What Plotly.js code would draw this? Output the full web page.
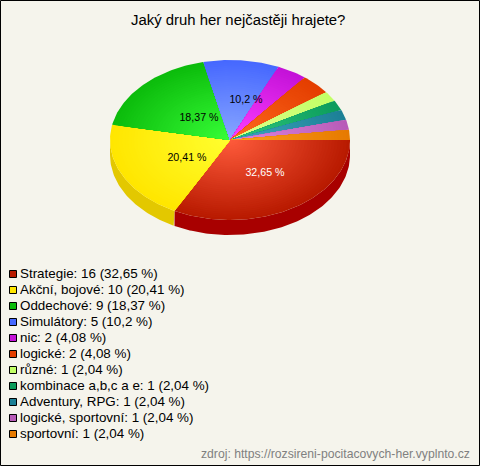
<!DOCTYPE html>
<html><head><meta charset="utf-8">
<script src="https://cdn.plot.ly/plotly-3.0.1.min.js"></script>
<style>html,body{margin:0;padding:0;background:#f5f4ec;overflow:hidden}#c{width:480px;height:466px}</style>
</head><body><div id="c"></div>
<script>
var categories = ["Strategie","Akční, bojové","Oddechové","Simulátory","nic","logické","různé","kombinace a,b,c a e","Adventury, RPG","logické, sportovní","sportovní"];
var counts = [16,10,9,5,2,2,1,1,1,1,1];
var percentLabels = ["32,65","20,41","18,37","10,2","4,08","4,08","2,04","2,04","2,04","2,04","2,04"];
var edgeColors = ["#b81a00","#ffe600","#0cbc0c","#4668ff","#c412d8","#e43e00","#c2ff66","#0c9c5c","#1c8096","#b85cb8","#e67a00"];
var innerColors = ["#ff5c3c","#ffff30","#38ff38","#8aa8ff","#ff40ff","#ff6a20","#e0ff90","#30c880","#40a8c0","#e088e0","#ffa020"];
var legendColors = ["#b81a00","#ffe600","#0cbc0c","#4668ff","#c412d8","#e43e00","#c2ff66","#0c9c5c","#1c8096","#b85cb8","#e67a00"];
var wallColors = ["#a80000","#e3c800"];

var labelX = [265,187,199,246], labelY = [173,158,118,100];
var labelColors = ["#ffffff","#000000","#000000","#000000"];

var cx=230, cy=140, rx=120, ry=80, depth=15, rings=40;
var total = counts.reduce(function(a,b){return a+b;},0);
function hex(c){return [1,3,5].map(function(i){return parseInt(c.substr(i,2),16);});}
function mix(a,b,t){var p=hex(a),q=hex(b);return 'rgb('+p.map(function(v,i){return Math.round(v+(q[i]-v)*t);}).join(',')+')';}
var traces=[], start=0, spans=[];
counts.forEach(function(v){var e=start+v/total*360;spans.push([start,e]);start=e;});
function rad(d){return d*Math.PI/180;}
spans.forEach(function(s,i){
  var a=s[0], b=Math.min(s[1],180);
  if(a>=180) return;
  var xs=[],ys=[],d;
  for(d=a;d<=b;d+=1){xs.push(cx+rx*Math.cos(rad(d)));ys.push(cy+ry*Math.sin(rad(d)));}
  xs.push(cx+rx*Math.cos(rad(b)));ys.push(cy+ry*Math.sin(rad(b)));
  xs.push(cx+rx*Math.cos(rad(b)));ys.push(cy+depth+ry*Math.sin(rad(b)));
  for(d=b;d>=a;d-=1){xs.push(cx+rx*Math.cos(rad(d)));ys.push(cy+depth+ry*Math.sin(rad(d)));}
  xs.push(xs[0]);ys.push(ys[0]);
  traces.push({type:'scatter',mode:'lines',x:xs,y:ys,fill:'toself',fillcolor:wallColors[i],line:{width:0},hoverinfo:'skip',showlegend:false});
});
spans.forEach(function(s,i){
  for(var k=rings;k>=1;k--){
    var f=k/rings, xs=[cx], ys=[cy];
    for(var d=s[0];;d+=1){
      if(d>s[1]) d=s[1];
      xs.push(cx+rx*f*Math.cos(rad(d)));ys.push(cy+ry*f*Math.sin(rad(d)));
      if(d>=s[1]) break;
    }
    xs.push(cx);ys.push(cy);
    traces.push({type:'scatter',mode:'lines',x:xs,y:ys,fill:'toself',fillcolor:mix(innerColors[i],edgeColors[i],f),line:{width:0},hoverinfo:'skip',showlegend:false});
  }
});
traces.push({type:'scatter',mode:'text',x:labelX,y:labelY,text:percentLabels.slice(0,4).map(function(p){return p+' %';}),
  textposition:'middle center',textfont:{family:'Liberation Sans, Arial',size:10.67,color:labelColors},hoverinfo:'skip',showlegend:false});
var rowY=categories.map(function(c,i){return 274+i*16;});
traces.push({type:'scatter',mode:'markers',x:categories.map(function(){return 13;}),y:rowY,
  marker:{symbol:'square',size:7,color:legendColors,line:{color:'#000',width:1}},hoverinfo:'skip',showlegend:false});
traces.push({type:'scatter',mode:'text',x:categories.map(function(){return 20;}),y:rowY.map(function(y){return y+0.5;}),
  text:categories.map(function(c,i){return c+': '+counts[i]+' ('+percentLabels[i]+' %)';}),
  textposition:'middle right',textfont:{family:'Liberation Sans, Arial',size:13.4,color:'#000'},hoverinfo:'skip',showlegend:false});
var layout={width:480,height:466,margin:{l:0,r:0,t:0,b:0},paper_bgcolor:'#f5f4ec',plot_bgcolor:'rgba(0,0,0,0)',showlegend:false,
  xaxis:{range:[0,480],visible:false,fixedrange:true,domain:[0,1]},
  yaxis:{range:[466,0],visible:false,fixedrange:true,domain:[0,1]},
  annotations:[
    {xref:'paper',yref:'paper',x:238/480,y:1-20/466,text:'Jaký druh her nejčastěji hrajete?',showarrow:false,xanchor:'center',yanchor:'middle',font:{family:'Liberation Sans, Arial',size:14.9,color:'#000'}},
    {xref:'paper',yref:'paper',x:472/480,y:1-454/466,text:'zdroj: https://rozsireni-pocitacovych-her.vyplnto.cz',showarrow:false,xanchor:'right',yanchor:'middle',font:{family:'Liberation Sans, Arial',size:12.2,color:'#808080'}}
  ],
  shapes:[{type:'rect',xref:'paper',yref:'paper',x0:0.5/480,x1:479.5/480,y0:0.5/466,y1:465.5/466,line:{color:'#000',width:1},fillcolor:'rgba(0,0,0,0)'}]
};
Plotly.newPlot('c',traces,layout,{displayModeBar:false,staticPlot:true});
</script></body></html>
